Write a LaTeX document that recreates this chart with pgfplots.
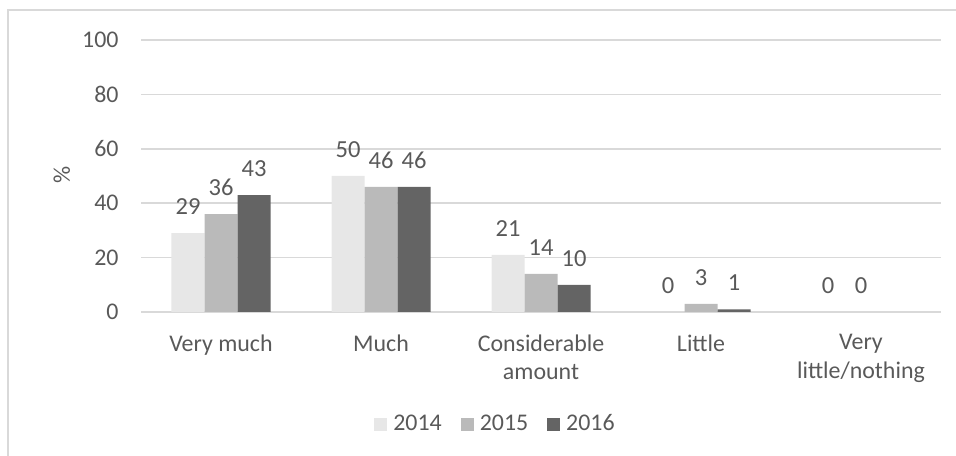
\documentclass[border=0pt]{standalone}
\usepackage{pgfplots}
\pgfplotsset{compat=1.18}
\usepackage{fontspec}
\setmainfont{Carlito}
\definecolor{txt}{HTML}{595959}
\definecolor{grd}{HTML}{D9D9D9}
\definecolor{cA}{HTML}{E7E7E7}
\definecolor{cB}{HTML}{BABABA}
\definecolor{cC}{HTML}{646464}
\begin{document}
\fontsize{12}{14.5}\selectfont
\begin{tikzpicture}
\useasboundingbox (0,0) rectangle (478bp,228bp);
\draw[grd, line width=0.75bp] (4bp,0) -- (4bp,223bp) -- (478bp,223bp);
\begin{axis}[
  at={(70.5bp,72bp)}, anchor=south west,
  scale only axis, width=400bp, height=136bp,
  ybar=0pt, bar width=16.5bp,
  xmin=-0.5, xmax=4.5, ymin=0, ymax=100,
  ytick={0,20,...,100},
  xtick={0,...,4},
  xticklabels={Very much, Much, {Considerable\\amount}, Little, {Very\\little/nothing}},
  xticklabel style={align=center, anchor=north, inner sep=0pt, yshift=-11bp, text=txt, font=\fontsize{12}{14.5}\selectfont},
  yticklabel style={anchor=east, inner sep=0pt, xshift=-11bp, text=txt, font=\fontsize{12}{14.5}\selectfont},
  /pgf/number format/assume math mode=true,
  major tick length=0pt,
  axis line style={draw=none},
  ymajorgrids, grid style={grd, line width=0.75bp},
  ylabel={\%},
  ylabel style={at={(axis description cs:-0.099,0.504)}, anchor=center, text=txt, font=\fontsize{12}{14.5}\selectfont},
  nodes near coords,
  every node near coord/.append style={text=txt, anchor=south, inner sep=0pt, yshift=9bp, font=\fontsize{12.3}{14.5}\selectfont},
  legend style={at={(0.43,-0.412)}, anchor=center, draw=none, fill=none,
    font=\fontsize{12}{14.5}\selectfont, text=txt, inner sep=0pt,
    nodes={inner sep=0pt}},
  legend columns=-1,
  legend image code/.code={\path[draw=none, fill=none] (-9.5bp,-0.1bp) rectangle (9.5bp,0.1bp); \fill[#1] (0bp,-3.25bp) rectangle (6.5bp,3.25bp);},
]
\addplot[fill=cA, draw=none] coordinates {(0,29) (1,50) (2,21) (3,0) (4,0)};
\addplot[fill=cB, draw=none] coordinates {(0,36) (1,46) (2,14) (3,3) (4,0)};
\addplot[fill=cC, draw=none] coordinates {(0,43) (1,46) (2,10) (3,1)};
\legend{2014,2015,2016}
\end{axis}
\end{tikzpicture}
\end{document}
